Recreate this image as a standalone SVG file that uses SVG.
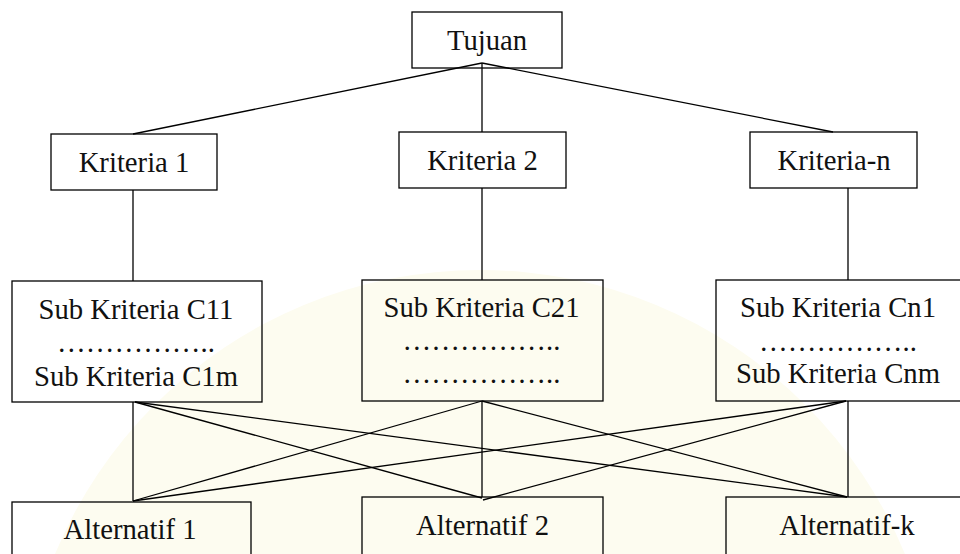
<svg xmlns="http://www.w3.org/2000/svg" width="960" height="554" viewBox="0 0 960 554">
<style>
.box{fill:none;stroke:#000;stroke-width:1.3}
.t{font-family:'Liberation Serif','DejaVu Serif',serif;font-size:28.7px;fill:#111;text-anchor:middle}
.c line{stroke:#000;stroke-width:1.3}
</style>
<rect width="960" height="554" fill="#fff"/>
<g id="watermark">
<circle cx="480" cy="730" r="460" fill="#fdfcf0"/>
</g>
<g class="c" id="connectors">
<line x1="482" y1="63" x2="133" y2="134"/>
<line x1="482" y1="63" x2="482" y2="132"/>
<line x1="482" y1="63" x2="833" y2="132"/>
<line x1="133" y1="190" x2="133" y2="281"/>
<line x1="482" y1="188" x2="482" y2="280"/>
<line x1="848" y1="188" x2="848" y2="280"/>
<line x1="133" y1="402" x2="133" y2="501"/>
<line x1="135" y1="402" x2="482" y2="498"/>
<line x1="135" y1="402" x2="847" y2="497"/>
<line x1="482" y1="401" x2="133" y2="501"/>
<line x1="482" y1="401" x2="482" y2="497"/>
<line x1="482" y1="401" x2="847" y2="497"/>
<line x1="846" y1="401" x2="133" y2="501"/>
<line x1="846" y1="401" x2="483" y2="500"/>
<line x1="848" y1="401" x2="848" y2="497"/>
</g>
<g id="tujuan"><rect class="box" x="412" y="12" width="150" height="56"/><text class="t" font-family="Liberation Serif, serif" x="487" y="50">Tujuan</text></g>
<g id="kriteria1"><rect class="box" x="51" y="134" width="166" height="56"/><text class="t" font-family="Liberation Serif, serif" x="134" y="172">Kriteria 1</text></g>
<g id="kriteria2"><rect class="box" x="399" y="132" width="167" height="56"/><text class="t" font-family="Liberation Serif, serif" x="482.5" y="170">Kriteria 2</text></g>
<g id="kriteriaN"><rect class="box" x="750" y="132" width="167" height="56"/><text class="t" font-family="Liberation Serif, serif" x="834" y="169.5">Kriteria-n</text></g>
<g id="sub1"><rect class="box" x="12" y="281" width="250" height="121"/>
<text class="t" x="136" y="319">Sub Kriteria C11</text>
<text class="t" x="136" y="352">……………..</text>
<text class="t" x="136" y="386">Sub Kriteria C1m</text></g>
<g id="sub2"><rect class="box" x="362" y="280" width="241" height="121"/>
<text class="t" x="481.5" y="317">Sub Kriteria C21</text>
<text class="t" x="481.5" y="350">……………..</text>
<text class="t" x="481.5" y="383">……………..</text></g>
<g id="subN"><rect class="box" x="716" y="280" width="270" height="121"/>
<text class="t" x="838" y="317">Sub Kriteria Cn1</text>
<text class="t" x="838" y="351">……………..</text>
<text class="t" x="838" y="383">Sub Kriteria Cnm</text></g>
<g id="alt1"><rect class="box" x="12" y="502" width="239" height="80"/><text class="t" x="130" y="539">Alternatif 1</text></g>
<g id="alt2"><rect class="box" x="362" y="497" width="241" height="80"/><text class="t" x="482.5" y="535">Alternatif 2</text></g>
<g id="altK"><rect class="box" x="726" y="497" width="260" height="80"/><text class="t" x="847" y="535">Alternatif-k</text></g>
</svg>
